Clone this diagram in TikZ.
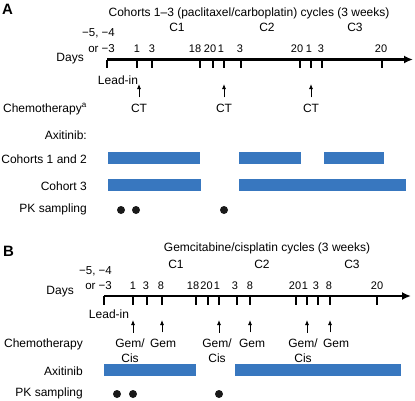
\documentclass[tikz,border=0pt]{standalone}
\usepackage{fontspec}
\setmainfont{Liberation Sans}
\usetikzlibrary{arrows.meta}
\definecolor{axiblue}{RGB}{56,119,191}

\begin{document}
\begin{tikzpicture}[x=1pt,y=-1pt,font=\fontsize{12}{15}\selectfont,
  txt/.style={inner sep=0pt,anchor=base},
  daynum/.style={inner sep=0pt,anchor=base,font=\fontsize{11}{14}\selectfont},
  rowlab/.style={inner sep=0pt,anchor=base east},
  panel/.style={inner sep=0pt,anchor=base west,font=\fontsize{15}{15}\bfseries\selectfont},
  daytick/.style={black,line width=1.1pt},
  timeaxis/.style={black,line width=2.2pt,-{Latex[length=9pt,width=8pt]}},
  upar/.style={black,line width=0.8pt,shorten <=6pt,-{Latex[length=5pt,width=4pt]}},
  axibar/.style={fill=axiblue,draw=none},
  pkdot/.style={fill=black!90,draw=none}]

\useasboundingbox (0,0) rectangle (415,400);

%%%%%%%%%%%%%%%%%%%%%%%% panel A
\node[panel] (pa) at (2,14) {A};
\node[txt] (titlea) at (249,16) {Cohorts 1–3 (paclitaxel/carboplatin) cycles (3 weeks)};
\node[txt] (ca1) at (177,31) {C1};
\node[txt] (ca2) at (267,31) {C2};
\node[txt] (ca3) at (355,31) {C3};

%%%%% axis
\coordinate (a0) at (107,59.5);
\coordinate (aend) at (413,59.5);
\node[rowlab] (daysa) at (84,61) {Days};
\node[rowlab,font=\fontsize{11.5}{14}\selectfont] (lead5a) at (115,36) {−5, −4};
\node[rowlab,font=\fontsize{11.5}{14}\selectfont] (lead3a) at (115,52) {or −3};
\draw[daytick] (a0) -- ++(0,8.5);
% tick position / label position / day
\foreach \x/\l/\d [count=\i] in {137/137/1,152/152/3,200/195/18,213/210/20,224/221/1,241/240/3,300/297/20,311/309/1,322/321/3,382/381/20} {
  \draw[daytick] (\x,59.5) -- (\x,68);
  \node[daynum] (la\i) at (\l,52) {\d};
}
\draw[timeaxis] (a0) -- (aend);

%%%%% chemotherapy
\node[txt] (leadina) at (118,84) {Lead-in};
\node[rowlab] (chemoa) at (87,112) {Chemotherapy\textsuperscript{a}};
\foreach \x [count=\i] in {139,224,311} {
  \coordinate (tipa\i) at (\x,84);
  \node[txt] (ct\i) at (\x,112) {CT};
  \draw[upar] (ct\i.north) -- (tipa\i);
}

%%%%% axitinib
\node[rowlab] (axia) at (87,139) {Axitinib:};
\node[rowlab] (coh12) at (87,163) {Cohorts 1 and 2};
\node[rowlab] (coh3) at (87,190) {Cohort 3};
\fill[axibar] (108,152) rectangle (200,164);
\fill[axibar] (239,152) rectangle (301,164);
\fill[axibar] (324,152) rectangle (384,164);
\fill[axibar] (108,179) rectangle (201,191);
\fill[axibar] (239,179) rectangle (406,191);

%%%%% pk
\node[rowlab] (pka) at (87,212) {PK sampling};
\foreach \x in {121,136,224}
  \fill[pkdot] (\x,210) circle (4pt);

%%%%%%%%%%%%%%%%%%%%%%%% panel B
\node[panel] (pb) at (3,256) {B};
\node[txt] (titleb) at (267,251) {Gemcitabine/cisplatin cycles (3 weeks)};
\node[txt] (cb1) at (176,268) {C1};
\node[txt] (cb2) at (262,268) {C2};
\node[txt] (cb3) at (352,268) {C3};

%%%%% axis
\coordinate (b0) at (104,296);
\coordinate (bend) at (411,296);
\node[rowlab] (daysb) at (74,294) {Days};
\node[rowlab,font=\fontsize{11.5}{14}\selectfont] (lead5b) at (112,274) {−5, −4};
\node[rowlab,font=\fontsize{11.5}{14}\selectfont] (lead3b) at (112,289) {or −3};
\draw[daytick] (b0) -- ++(0,8.5);
% tick position / label position / day
\foreach \x/\l/\d [count=\i] in {133/133/1,147/146/3,162/161/8,196/193/18,208/206.5/20,219/217/1,237/235/3,250/250/8,296/295/20,307/305/1,318/316/3,330/329/8,377/377/20} {
  \draw[daytick] (\x,296) -- (\x,304.5);
  \node[daynum] (lb\i) at (\l,289) {\d};
}
\draw[timeaxis] (b0) -- (bend);

%%%%% chemotherapy
\node[txt] (leadinb) at (109,318) {Lead-in};
\node[rowlab] (chemob) at (83,347) {Chemotherapy};
\foreach \x/\g/\t/\m [count=\i] in {130/133/163/162,217/219/252/250,303/307/336/330} {
  \coordinate (tipgc\i) at (\g,320);
  \coordinate (tipgm\i) at (\m,320);
  \node[inner sep=0pt,anchor=north,align=center] (gc\i) at (\x,338.6) {Gem/\\Cis};
  \node[txt] (gm\i) at (\t,347) {Gem};
  \draw[upar] (gc\i.north -| tipgc\i) -- (tipgc\i);
  \draw[upar] (gm\i.north -| tipgm\i) -- (tipgm\i);
}

%%%%% axitinib
\node[rowlab] (axib) at (83,375) {Axitinib};
\fill[axibar] (104,364) rectangle (196,376);
\fill[axibar] (235,364) rectangle (401,376);

%%%%% pk
\node[rowlab] (pkb) at (83,396) {PK sampling};
\foreach \x in {117,133,219}
  \fill[pkdot] (\x,394) circle (4pt);

\end{tikzpicture}
\end{document}
